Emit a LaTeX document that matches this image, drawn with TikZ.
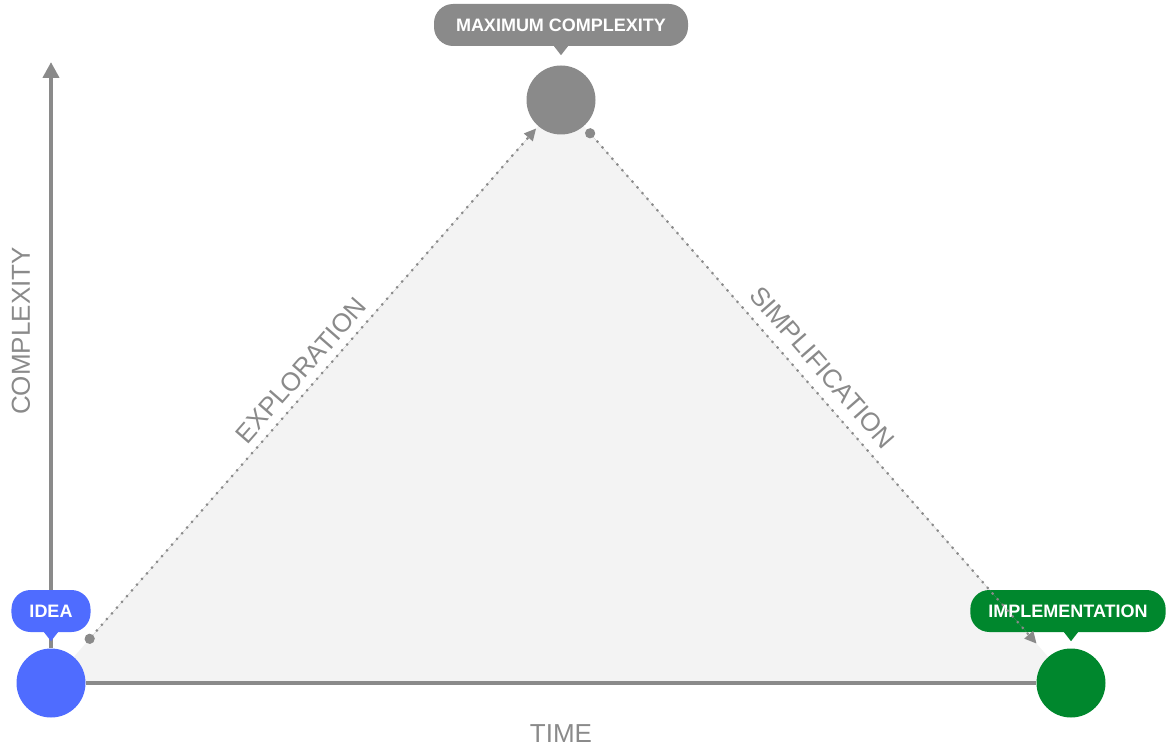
\documentclass[tikz,border=0pt]{standalone}
\usepackage{fontspec}
\setmainfont{Liberation Sans}
\usetikzlibrary{arrows.meta,backgrounds}

\definecolor{ideablue}{HTML}{4F6CFF}
\definecolor{peakgray}{HTML}{8A8A8A}
\definecolor{implgreen}{HTML}{00872D}
\definecolor{areagray}{HTML}{F3F3F3}

\begin{document}
\begin{tikzpicture}[
			x=1pt, y=-1pt,
			stage/.style={circle, minimum size=69pt, inner sep=0},
			tag/.style={rounded corners=19pt, minimum height=42pt, inner xsep=18pt, inner ysep=0,
				text=white, font=\fontsize{18}{18}\selectfont\bfseries},
			axis/.style={line width=4pt, draw=peakgray},
			flow/.style={line width=3pt, draw=peakgray, fill=peakgray, line cap=round,
				dash pattern=on 0pt off 7.6pt, {Circle[length=10pt]}-{Triangle[length=12pt,width=11pt]}},
			caption/.style={text=peakgray, inner sep=0, font=\fontsize{26}{26}\selectfont}]
	
		\useasboundingbox (0,0) rectangle (1168,749);
	
		\node[stage, fill=ideablue](idea) at (51,683) {};
		\node[stage, fill=peakgray](peak) at (561,100) {};
		\node[stage, fill=implgreen](impl) at (1071,683) {};
		\coordinate (ytip) at (51,62);
	
		\node[tag, fill=ideablue](idealabel) at (51,611) {IDEA};
		\node[tag, fill=peakgray, inner xsep=22pt](peaklabel) at (561,25) {MAXIMUM COMPLEXITY};
		\node[tag, fill=implgreen](impllabel) at (1068,611) {IMPLEMENTATION};
	
		\foreach \s/\l/\c in {idea/idealabel/ideablue, peak/peaklabel/peakgray, impl/impllabel/implgreen}
			\fill[\c] ([xshift=-7pt]\s |- \l.south) -- ([xshift=7pt]\s |- \l.south) -- ([yshift=-9pt]\s |- \l.south) -- cycle;
	
		\begin{pgfonlayer}{background}
			\fill[areagray] (idea.center) -- (peak.center) -- (impl.center) -- cycle;
			\draw[axis] (idea) -- (impl);
			\draw[axis, -{Triangle[length=16pt,width=16pt]}] (idea) -- (ytip);
		\end{pgfonlayer}
	
		\draw[flow, shorten <=19pt, shorten >=3pt] (idea) -- (peak)
			node[caption, pos=.518, sloped, above=7pt]{EXPLORATION};
		\draw[flow, shorten <=4.5pt, shorten >=17.5pt] (peak) -- (impl)
			node[caption, pos=.48, sloped, above=10pt]{SIMPLIFICATION};
	
		\node[caption, rotate=90](complexity) at (21,331) {COMPLEXITY};
		\node[caption](time) at (561,734) {TIME};
	\end{tikzpicture}
\end{document}
